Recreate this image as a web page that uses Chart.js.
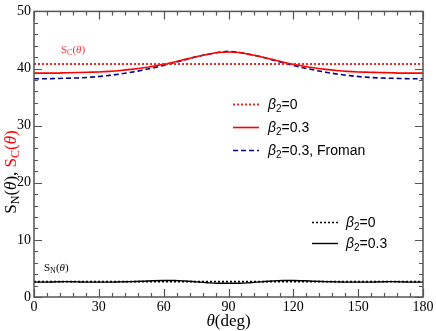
<!DOCTYPE html>
<html><head><meta charset="utf-8">
<script src="https://cdn.jsdelivr.net/npm/chart.js@4/dist/chart.umd.min.js"></script>
<style>html,body{margin:0;padding:0;background:#fff}#wrap{width:436px;height:331px}</style>
</head><body><div id="wrap"><canvas id="c" width="436" height="331"></canvas></div>
<script>
const theta = [0,5,10,15,20,25,30,35,40,45,50,55,60,65,70,75,80,85,90,95,100,105,110,115,120,125,130,135,140,145,150,155,160,165,170,175,180];
const sc_b0 = theta.map(() => 40.8);
const sc_b03 = [39.2,39.2,39.2,39.25,39.3,39.35,39.4,39.5,39.65,39.85,40.1,40.4,40.75,41.15,41.6,42.05,42.45,42.8,42.9,42.8,42.45,42.05,41.6,41.15,40.75,40.4,40.1,39.85,39.65,39.5,39.4,39.35,39.3,39.25,39.2,39.2,39.2];
const sc_froman = [38.2,38.2,38.25,38.3,38.35,38.45,38.6,38.8,39.05,39.35,39.7,40.1,40.55,41.05,41.55,42.05,42.45,42.8,43.0,42.8,42.45,42.05,41.55,41.05,40.55,40.1,39.7,39.35,39.05,38.8,38.6,38.45,38.35,38.3,38.25,38.2,38.2];
const sn_b0 = theta.map(() => 2.7);
const sn_b03 = [2.6,2.6,2.65,2.7,2.65,2.6,2.6,2.6,2.65,2.7,2.75,2.85,2.9,2.9,2.8,2.65,2.5,2.4,2.4,2.4,2.5,2.65,2.8,2.9,2.9,2.85,2.75,2.7,2.65,2.6,2.6,2.6,2.65,2.7,2.65,2.6,2.6];
const xTicks = [0,30,60,90,120,150,180];
const yTicks = [0,10,20,30,40,50];

const SERIF = "'Liberation Serif', 'DejaVu Serif', serif";
const SANS = "'Liberation Sans', Arial, sans-serif";

function mk(label, data, color, dash, width){
  return {label, data: theta.map((t,i)=>({x:t,y:data[i]})), borderColor: color, borderDash: dash, borderWidth: width, pointRadius: 0, fill: false, cubicInterpolationMode: 'monotone'};
}
const datasets = [
  mk('b0', sc_b0, '#ff2020', [2,2], 2),
  mk('b03', sc_b03, '#ff0000', [], 1.6),
  mk('froman', sc_froman, '#00008b', [5,3], 1.6),
  mk('snb0', sn_b0, '#000000', [2,2], 1.6),
  mk('snb03', sn_b03, '#000000', [], 1.4),
];

function rich(ctx, x, y, segs){
  let cx = x;
  for (const s of segs){
    ctx.font = s.font; ctx.fillStyle = s.color || '#000';
    ctx.fillText(s.t, cx, y + (s.dy||0));
    cx += ctx.measureText(s.t).width;
  }
  return cx - x;
}
function richWidth(ctx, segs){
  let w = 0; for (const s of segs){ ctx.font = s.font; w += ctx.measureText(s.t).width; } return w;
}

const deco = {
  id: 'deco',
  afterDraw(chart){
    const ctx = chart.ctx, a = chart.chartArea, xs = chart.scales.x, ys = chart.scales.y;
    ctx.save();
    ctx.strokeStyle = '#555'; ctx.lineWidth = 1.5; ctx.setLineDash([]);
    ctx.strokeRect(a.left, a.top, a.right - a.left, a.bottom - a.top);
    ctx.lineWidth = 1.2;
    ctx.beginPath();
    for (let v = 0; v <= 50; v += 2){
      const p = Math.round(ys.getPixelForValue(v)) + 0.5;
      const L = (v % 10 === 0) ? 8 : 4;
      ctx.moveTo(a.left, p); ctx.lineTo(a.left + L, p);
      ctx.moveTo(a.right, p); ctx.lineTo(a.right - L, p);
    }
    for (let v = 0; v <= 180; v += 6){
      const p = Math.round(xs.getPixelForValue(v)) + 0.5;
      const L = (v % 30 === 0) ? 8 : 4;
      ctx.moveTo(p, a.bottom); ctx.lineTo(p, a.bottom - L);
      ctx.moveTo(p, a.top); ctx.lineTo(p, a.top + L);
    }
    ctx.stroke();

    ctx.textBaseline = 'alphabetic';
    rich(ctx, 61, 53, [
      {t:'S', font:`11px ${SERIF}`, color:'#ff3030'},
      {t:'C', font:`8px ${SERIF}`, color:'#ff3030', dy:2},
      {t:'(', font:`11px ${SERIF}`, color:'#ff3030'},
      {t:'θ', font:`italic 11px ${SERIF}`, color:'#ff3030'},
      {t:')', font:`11px ${SERIF}`, color:'#ff3030'}]);
    rich(ctx, 44, 271, [
      {t:'S', font:`11px ${SERIF}`},
      {t:'N', font:`8px ${SERIF}`, dy:2},
      {t:'(', font:`11px ${SERIF}`},
      {t:'θ', font:`italic 11px ${SERIF}`},
      {t:')', font:`11px ${SERIF}`}]);

    const ds = chart.data.datasets;
    function legendRow(d, x1, x2, tx, y, extra){
      ctx.save();
      ctx.strokeStyle = d.borderColor; ctx.lineWidth = d.borderWidth; ctx.setLineDash(d.borderDash || []);
      ctx.beginPath(); ctx.moveTo(x1, y + 0.5); ctx.lineTo(x2, y + 0.5); ctx.stroke();
      ctx.restore();
      rich(ctx, tx, y + 5, [
        {t:'β', font:`italic 14px ${SANS}`},
        {t:'2', font:`10px ${SANS}`, dy:3},
        {t:extra, font:`14px ${SANS}`}]);
    }
    legendRow(ds[0], 233, 259, 268, 104, '=0');
    legendRow(ds[1], 233, 259, 268, 127, '=0.3');
    legendRow(ds[2], 233, 259, 268, 150, '=0.3, Froman');
    legendRow(ds[3], 312, 338, 346, 222, '=0');
    legendRow(ds[4], 312, 338, 346, 243, '=0.3');

    const xseg = [{t:'θ', font:`italic 17px ${SERIF}`}, {t:'(deg)', font:`17px ${SERIF}`}];
    const xw = richWidth(ctx, xseg);
    rich(ctx, (a.left + a.right)/2 - xw/2, 326, xseg);

    const yseg = [
      {t:'S', font:`17px ${SERIF}`},
      {t:'N', font:`12px ${SERIF}`, dy:3},
      {t:'(', font:`17px ${SERIF}`},
      {t:'θ', font:`italic 17px ${SERIF}`},
      {t:'), ', font:`17px ${SERIF}`},
      {t:'S', font:`17px ${SERIF}`, color:'#ff0000'},
      {t:'C', font:`12px ${SERIF}`, color:'#ff0000', dy:3},
      {t:'(', font:`17px ${SERIF}`, color:'#ff0000'},
      {t:'θ', font:`italic 17px ${SERIF}`, color:'#ff0000'},
      {t:')', font:`17px ${SERIF}`, color:'#ff0000'}];
    const yw = richWidth(ctx, yseg);
    ctx.translate(16, 172);
    ctx.rotate(-Math.PI/2);
    rich(ctx, -yw/2, 0, yseg);
    ctx.restore();
  }
};

new Chart(document.getElementById('c'), {
  type: 'line',
  data: { datasets },
  options: {
    responsive: false, animation: false, devicePixelRatio: 1,
    layout: { padding: { top: 5, right: 13, left: 0, bottom: 0 } },
    plugins: { legend: { display: false }, tooltip: { enabled: false } },
    scales: {
      x: {
        type: 'linear', min: 0, max: 180,
        afterBuildTicks: s => { s.ticks = xTicks.map(v => ({value: v})); },
        afterFit: s => { s.height = 34; },
        grid: { display: false, drawTicks: false },
        border: { display: false },
        ticks: { font: { family: SERIF, size: 14 }, color: '#000', padding: 2, maxRotation: 0, autoSkip: false }
      },
      y: {
        min: 0, max: 50,
        afterBuildTicks: s => { s.ticks = yTicks.map(v => ({value: v})); },
        afterFit: s => { s.width = 34; },
        grid: { display: false, drawTicks: false },
        border: { display: false },
        ticks: { font: { family: SERIF, size: 14 }, color: '#000', padding: 3 }
      }
    }
  },
  plugins: [deco]
});
</script>
</body></html>
